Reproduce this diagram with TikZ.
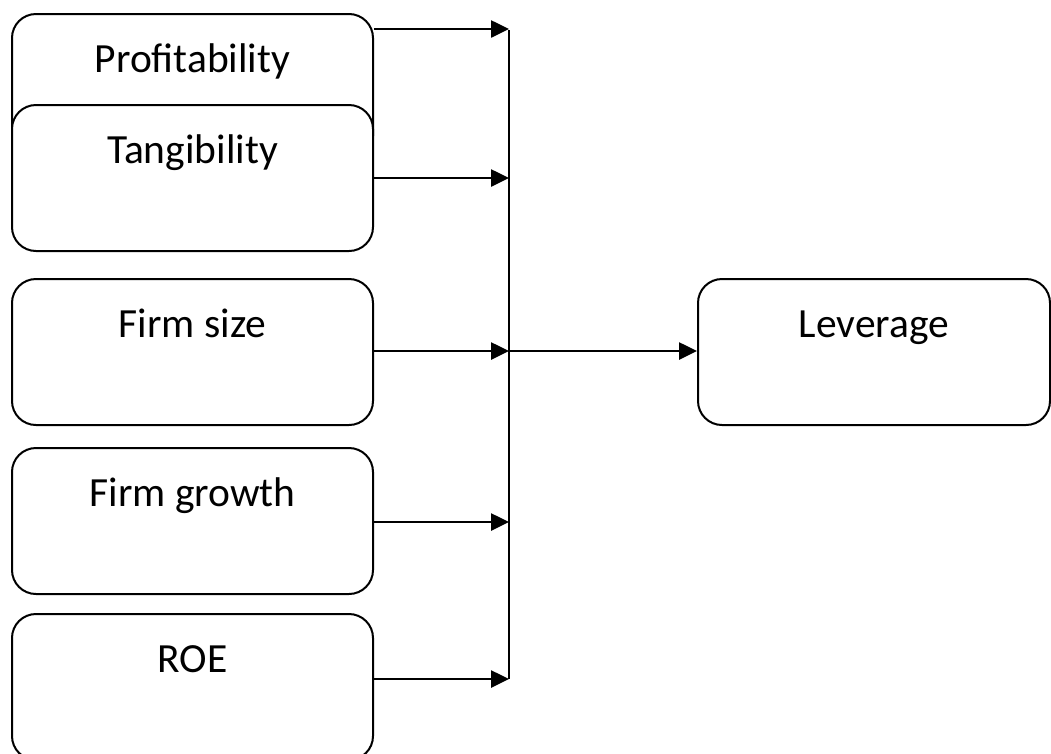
\documentclass[tikz,border=0pt]{standalone}
\usepackage{fontspec}
\setmainfont{Carlito}
\usetikzlibrary{arrows.meta}
\begin{document}
\begin{tikzpicture}[x=1pt,y=1pt,
  box/.style={draw, line width=2pt, rounded corners=24pt, fill=white,
    minimum width=361pt, inner sep=0pt, text height=58pt, text depth=88pt,
    anchor=north west, font=\fontsize{41.5pt}{50pt}\selectfont},
  arr/.style={line width=2.6pt, -{Triangle[length=18pt,width=17pt]}},
  bus/.style={line width=2pt}]
\useasboundingbox (0,0) rectangle (1051,-753);
\node[box] (prof) at (11,-13) {Profitability};
\node[box] (tang) at (11,-104) {Tangibility};
\node[box] (size) at (11,-278) {Firm size};
\node[box] (grow) at (11,-447) {Firm growth};
\node[box] (roe)  at (11,-613) {ROE};
\node[box, minimum width=352pt] (lev) at (697,-278) {Leverage};
\coordinate (b1) at (509,-29);
\coordinate (b2) at (509,-178);
\coordinate (b3) at (509,-351);
\coordinate (b4) at (509,-522);
\coordinate (b5) at (509,-679);
\coordinate (btop) at (509,-30);
\draw[bus] (btop) -- (b5);
\draw[arr] (prof.east |- b1) -- (b1);
\draw[arr] (tang.east |- b2) -- (b2);
\draw[arr] (size.east |- b3) -- (b3);
\draw[arr] (grow.east |- b4) -- (b4);
\draw[arr] (roe.east |- b5) -- (b5);
\draw[arr] (b3) -- (lev.west |- b3);
\end{tikzpicture}
\end{document}
